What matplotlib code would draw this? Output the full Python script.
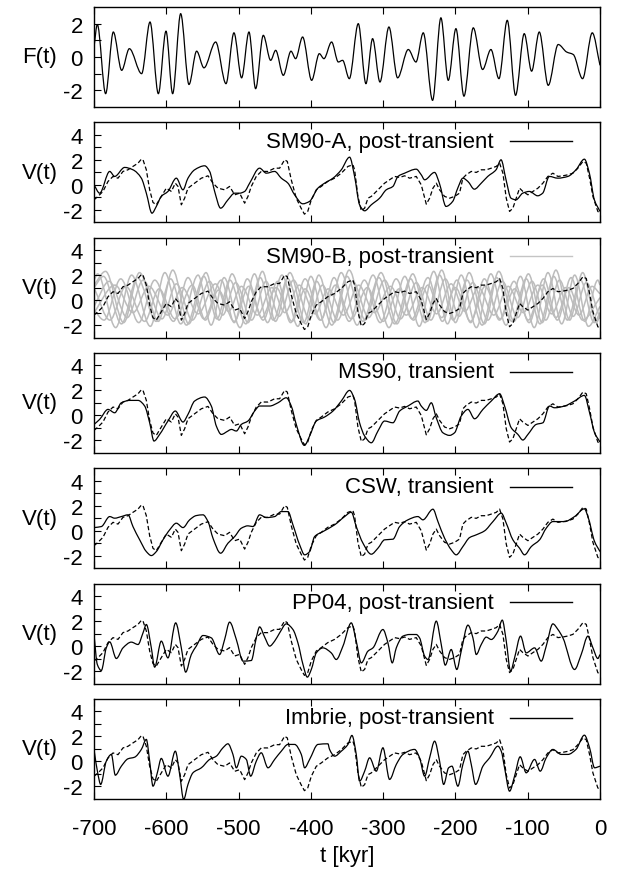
import matplotlib
matplotlib.use("Agg")
import matplotlib.pyplot as plt
import numpy as np
from matplotlib.path import Path
from matplotlib.patches import PathPatch

plt.rcParams['font.family'] = ['Liberation Sans', 'DejaVu Sans']

# forcing F(t): turning points
f_t = [-700, -695.4, -683.9, -673.3, -661.7, -651.1, -634.1, -622.5, -611, -600.4, -591.2, -580.1,
       -568.6, -558, -547.9, -531.7, -517.4, -506.4, -495.8, -485.6, -476.4, -465.8, -455.6, -448.7,
       -438.1, -427.5, -421.1, -411.4, -398.9, -388.3, -381.9, -371.3, -362, -356.1, -346.8, -334.4,
       -323.8, -314.6, -304.4, -292, -280, -265.2, -254.6, -244.5, -231.6, -220.1, -209.9, -199.3,
       -188.2, -175.3, -162.4, -150.9, -139.8, -128.3, -116.8, -104.8, -94.6, -84, -71.6, -57.8,
       -46.2, -37, -24.1, -10.7, 0]
f_v = [0.6, 1.95, -2.2, 1.5, -0.8, 0.5, -1.0, 2.1, -2.2, 1.55, -2.2, 2.6,
       -1.65, 0.35, -0.65, 0.9, -1.6, 1.45, -1.25, 1.5, -1.9, 1.3, -0.2, 0.4,
       -1.1, 0.35, -0.1, 1.2, -1.4, 0.2, -0.1, 0.9, -0.3, -0.2, -1.3, 2.0,
       -1.6, 1.1, -1.5, 1.8, -1.25, 0.45, -0.3, 1.45, -2.6, 2.35, -1.4, 1.7,
       -2.35, 1.75, -0.75, 0.45, -1.3, 2.2, -2.3, 1.4, -0.85, 1.5, -1.7, 0.75,
       0.3, 0.15, -1.3, 1.45, -0.5]

# ice volume record (dashed), same in every V(t) panel
d_t = [-700, -694.5, -687.6, -680.6, -673.7, -666.8, -659.9, -653, -646.1, -639.1, -634.5, -632.2,
       -627.6, -623, -618.4, -613.8, -606.9, -600, -593, -587.5, -583.8, -579.2, -574.6, -570,
       -560.8, -551.5, -542.3, -535.4, -528.5, -519.3, -512.4, -505.4, -498.5, -491.6, -487, -482.4,
       -475.5, -468.6, -459.3, -450.1, -443.2, -436.3, -432.6, -427.1, -420.2, -413.5, -408.9, -404.3,
       -399.4, -392.5, -385.6, -376.6, -367.1, -357.9, -348.7, -341.8, -339.5, -334.9, -330.2, -325.6,
       -321, -316.4, -311.8, -304.9, -298, -291.1, -284.2, -277.2, -270.3, -263.4, -254.2, -247.3,
       -240.3, -235.7, -231.1, -226.5, -221.9, -215, -208.1, -201.2, -194.3, -189.7, -185.1, -178.1,
       -171.2, -164.3, -157.4, -150.4, -143.5, -138.9, -134.3, -129.7, -125.1, -120.5, -115.9, -111.3,
       -106.7, -99.7, -92.8, -85.9, -79, -72.1, -65.2, -58.2, -51.3, -44.4, -37.5, -30.6,
       -23.6, -19, -14.4, -9.8, -3, 0]
d_v = [-1.2, -0.93, -0.53, 0.27, 0.67, 0.53, 1.07, 1.2, 1.47, 1.73, 2.05, 2.0,
       1.2, -0.4, -1.41, -1.6, -0.93, -0.27, -0.53, 0.13, -0.13, -1.6, -1.07, -0.27,
       0.13, 0.53, 0.72, 0.13, -0.27, -0.4, -0.13, -0.8, -0.67, -1.47, -0.93, -0.13,
       0.67, 1.07, 1.07, 1.33, 1.33, 2.0, 1.87, 0.4, -1.07, -1.87, -2.35, -2.13,
       -1.2, -0.4, -0.13, 0.27, 0.53, 0.93, 1.47, 1.6, 1.2, -0.93, -2.08, -1.87,
       -1.07, -0.93, -0.67, -0.27, 0.13, 0.4, 0.67, 0.59, 0.72, 0.53, 0.67, 0.0,
       -1.55, -1.07, -0.27, 0.13, -0.4, -0.93, -1.07, -0.93, -0.67, 0.53, 0.8, 1.07,
       0.99, 1.2, 1.2, 1.33, 1.47, 1.73, 0.93, -1.07, -2.13, -1.87, -1.07, -0.27,
       -0.53, -0.8, -0.53, -0.27, 0.13, 0.67, 0.93, 0.67, 0.72, 0.8, 0.93, 1.33,
       1.87, 1.73, 0.53, -0.93, -2.13, -2.27]

# model runs (solid)
sm90a_t = [-700, -692.2, -678.3, -671.4, -657.6, -646.1, -634.5, -627.6, -619.8, -613.8, -606.9, -597.7,
           -586.1, -576.9, -570, -560.8, -546.9, -540, -533.1, -524.8, -514.7, -505.4, -498.5, -491.6,
           -484.7, -470.9, -461.6, -450.1, -440.9, -431.7, -422.5, -411.2, -401.9, -390.3, -381, -369.4,
           -357.9, -346.4, -339.5, -332.6, -325.6, -316.4, -304.9, -295.7, -286.5, -279.5, -270.3, -254.2,
           -247.3, -242.6, -228.9, -222.2, -213, -203.8, -196.8, -189.7, -182.8, -173.8, -164.3, -155.3,
           -143.8, -136.9, -130, -123.1, -116.2, -106.9, -97.7, -86.2, -79.3, -70.1, -58.5, -44.4,
           -33.2, -21.6, -14.7, -7.8, 0]
sm90a_v = [0, -0.67, 1.07, 0.67, 1.39, 1.2, 0.53, -0.67, -2.27, -1.73, -0.93, -0.53,
           0.53, -0.4, 0.53, 1.2, 1.52, 1.07, -0.53, -1.87, -1.2, -0.67, -0.67, -0.53,
           0.13, 1.33, 0.93, 1.07, 0.53, 0.13, -0.8, -1.52, -1.33, -0.27, 0.13, 0.53,
           1.2, 2.21, 0.67, -1.6, -2.08, -1.6, -1.07, -0.4, -0.13, 0.67, 0.93, 1.25,
           0.8, 0.4, 0.99, 0.13, -1.73, -1.33, -0.27, 0.53, 0.27, -0.35, 0.13, 0.67,
           1.2, 2.0, 0.4, -1.07, -1.2, -0.67, -0.53, -0.88, -0.67, 0.67, 0.53, 0.67,
           1.2, 2.05, 0.93, -1.2, -2.13]

ms90_t = [-700, -692.2, -680.6, -671.4, -662.2, -650.7, -639.1, -629.9, -623, -617, -609.2, -597.7,
          -587.5, -576.9, -570, -560.8, -546.9, -537.7, -530.8, -523.9, -514.7, -510.1, -503.1, -496.2,
          -487, -477.8, -470.9, -457, -445.5, -434, -427.1, -420.2, -408.9, -401.7, -392.5, -381,
          -369.4, -357.9, -346.4, -339.5, -332.6, -325.6, -316.4, -307.2, -298, -286.5, -277.2, -265.7,
          -251.9, -247.3, -240.3, -233.4, -226.5, -217.3, -208.1, -201.2, -192, -182.7, -173.5, -162,
          -150.4, -138.9, -132, -122.8, -113.6, -106.7, -99.7, -88.2, -79, -69.8, -62.8, -49.1,
          -35.2, -21.6, -14.4, -7.5, 0]
ms90_v = [-0.72, -0.32, 0.48, 0.21, 1.01, 1.2, 1.2, 0.75, -0.59, -2.05, -1.52, -0.45,
          0.35, -0.53, 0.08, 1.15, 1.47, 0.75, -0.85, -1.52, -1.25, -1.12, -1.25, -0.72,
          -0.45, 0.35, 0.75, 0.75, 1.01, 1.41, 0.75, -0.72, -2.4, -1.65, -0.45, -0.13,
          0.35, 1.15, 2.0, 1.28, -0.59, -1.65, -2.19, -1.25, -0.45, -0.59, 0.35, 0.75,
          1.15, 0.75, 0.4, 1.01, -0.19, -1.39, -1.6, -1.39, -0.05, 0.48, -0.27, 0.48,
          1.15, 1.73, 0.75, -0.99, -1.52, -1.97, -1.52, -0.72, -0.59, 0.75, 0.61, 0.75,
          1.15, 1.6, 0.21, -1.39, -2.13]

csw_t = [-700, -689.9, -678.3, -671.4, -662.2, -653, -646.1, -636.8, -627.6, -620.7, -613.8, -604.6,
         -595.3, -586.1, -576.9, -567.7, -558.5, -549.2, -542.3, -535.4, -524.8, -514.7, -505.4, -496.2,
         -487, -480.1, -470.9, -461.6, -450.1, -440.9, -431.7, -424.8, -415.5, -408.6, -401.7, -394.8,
         -383.3, -367.1, -353.3, -344.1, -337.2, -327.9, -316.4, -307.2, -298, -286.5, -277.2, -265.7,
         -251.9, -245, -231.1, -224.2, -215, -205.8, -198.9, -189.7, -180.4, -171.2, -159.6, -148.1,
         -136.6, -129.7, -120.5, -111.3, -104.4, -95.1, -83.6, -74.4, -65.2, -49.1, -35.2, -21.6,
         -16.7, -7.5, 0]
csw_v = [0.25, 0.33, 1.13, 1.0, 1.13, 1.27, 0.33, -0.73, -1.67, -1.99, -1.67, -0.73,
         0.07, 0.6, 0.25, 0.87, 1.21, 1.27, 0.73, -0.6, -1.8, -1.0, -0.47, 0.2,
         0.39, 0.33, 1.27, 1.05, 1.13, 1.53, 1.53, 0.47, -1.13, -1.93, -1.67, -0.47,
         -0.07, 0.47, 1.13, 1.48, 0.33, -1.0, -1.88, -1.4, -0.73, -0.68, 0.33, 0.87,
         1.13, 0.87, 1.72, 0.73, -0.6, -1.53, -1.93, -1.27, -0.55, -0.33, -0.01, 0.73,
         1.4, 0.6, -0.73, -1.4, -1.93, -1.27, -0.73, 0.2, 0.73, 0.73, 1.13, 1.75,
         1.13, -0.87, -1.67]

pp04_t = [-700, -695.4, -689.9, -683, -678.3, -669.1, -659.9, -648.4, -639.1, -632.2, -627.6, -620.7,
          -616.1, -606.9, -597.7, -587, -579.2, -573.2, -565.4, -558.5, -549.2, -537.7, -526.2, -519.3,
          -512.4, -503.1, -493.9, -482.4, -475.5, -470.9, -463.9, -457, -450.1, -443.2, -434, -424.8,
          -417.9, -410.9, -404.9, -399.4, -392.5, -383.3, -371.8, -364.9, -355.6, -344.1, -337.2, -330.2,
          -321, -314.1, -300.3, -293.4, -287.4, -281.8, -272.6, -263.4, -254.2, -249.6, -242.6, -238,
          -226.5, -219.6, -214.1, -205.8, -198.1, -192, -182.7, -175.8, -171.2, -164.3, -157.4, -150.4,
          -141.2, -135.2, -129.7, -123.7, -118.2, -109.9, -102.1, -90.5, -81.3, -74.4, -65.2, -58.2,
          -51.3, -35.2, -26, -16.7, -9.8, -3, 0]
pp04_v = [0.92, -1.48, -1.96, -0.15, 0.33, -1.0, -0.15, 0.31, 0.12, 1.05, 1.72, -0.15,
          -1.69, 0.39, -0.95, 1.85, -0.15, -2.09, -0.68, -0.01, 0.84, 0.65, -0.68, 0.52,
          1.91, 0.52, -1.21, -1.16, 0.65, 1.53, 0.71, -0.01, 0.39, 1.05, 1.77, 1.32,
          0.25, -1.48, -2.49, -1.88, -0.55, -0.15, -0.55, -1.08, -0.01, 1.85, 0.39, -1.35,
          -0.41, -0.15, 1.32, 0.25, -1.35, -0.15, 0.79, 0.92, 0.92, 0.65, -0.81, -1.08,
          1.99, 0.12, -1.53, -0.28, -1.88, -0.41, 1.67, 0.65, -0.68, 0.12, 0.71, 0.52,
          1.19, 2.07, 0.39, -2.01, -0.95, 0.79, -0.55, -0.15, -1.21, -0.01, 1.77, 1.32,
          0.65, -1.88, -0.68, 0.79, -0.15, -1.0, -0.68]

imbrie_t = [-700, -694.5, -690.8, -683, -676, -670.5, -662.2, -653, -643.8, -634.5, -627.6, -623,
            -618.4, -612.4, -606.9, -597.7, -587.5, -581.5, -576, -570, -563.1, -551.5, -540, -530.8,
            -521.6, -514.7, -507.8, -503.1, -496.2, -489.3, -483.3, -475.5, -468.6, -459.3, -450.1, -440.9,
            -431.7, -422.5, -413.2, -408.6, -401.7, -390.2, -376.4, -374.1, -367.1, -357.9, -348.7, -343.2,
            -337.2, -332.6, -325.6, -318.7, -309.5, -300.3, -291.1, -281.8, -272.6, -256.5, -249.6, -242.6,
            -235.7, -228.8, -221.9, -216.3, -209.4, -204.8, -196.6, -189.7, -182.7, -178.1, -172.1, -162,
            -152.7, -141.2, -136.6, -132, -125.1, -118.2, -110.4, -102.1, -90.5, -82.7, -74.4, -65.2,
            -53.6, -44.4, -33.2, -21.6, -14.4, -7.5, 0]
imbrie_v = [0.95, -1.05, -1.85, 0.01, 0.55, -1.11, -0.39, 0.2, 0.33, 0.95, 1.75, 0.01,
            -1.99, -0.92, 0.23, -1.19, 0.81, -1.05, -3.05, -1.85, -0.92, -0.52, 0.15, 0.41,
            1.08, 1.4, 0.55, -0.52, 0.41, 0.15, -1.19, 0.01, 0.68, -0.52, 0.15, 0.81,
            1.35, 1.35, 0.55, -0.52, 0.15, 1.35, 1.4, 0.95, 0.41, 0.81, 1.35, 2.07,
            0.55, -1.59, -0.79, 0.28, -0.79, 1.08, -1.45, -0.25, 0.55, 0.95, 0.28, -1.19,
            0.28, 1.61, 0.01, -1.85, -0.52, -0.39, -1.99, -0.25, 0.81, -0.25, -1.85, -0.39,
            0.28, 1.21, 0.81, -0.52, -2.39, -1.19, 0.36, -0.92, 0.15, -0.79, 0.28, 0.95,
            0.55, 0.55, 0.95, 2.09, 1.08, -0.52, -0.39]

# SM90-B ensemble (grey): turning points of the members
grey_a_t = [-700, -687, -662, -640, -614, -594, -572, -548, -530, -512, -490, -470, -452, -432, -410, -392,
            -371, -350, -328, -306, -284, -262, -242, -222, -203, -184, -163, -143, -122, -102, -83, -64,
            -45, -27, -8, 0]
grey_a_v = [1.0, 1.9, -1.9, 1.8, -1.7, 1.7, -2.0, 1.9, -1.5, 1.6, -1.9, 1.8, -1.6, 1.7, -1.8, 1.5,
            -2.0, 1.9, -1.7, 1.8, -1.9, 1.7, -1.8, 2.0, -1.6, 1.6, -2.0, 1.8, -1.7, 1.7, -1.9, 1.9,
            -1.6, 1.6, -1.8, -1.0]
grey_b_t = [-700, -679, -654, -632, -606, -586, -564, -540, -522, -504, -482, -462, -444, -424, -402, -384,
            -363, -342, -320, -298, -276, -254, -234, -214, -195, -176, -155, -135, -114, -94, -75, -56,
            -37, -19, 0]
grey_b_v = [-0.5, 1.5, -1.4, 1.6, -1.5, 1.3, -1.6, 1.5, -1.2, 1.4, -1.6, 1.5, -1.3, 1.6, -1.5, 1.2,
            -1.6, 1.5, -1.4, 1.6, -1.5, 1.4, -1.6, 1.7, -1.3, 1.4, -1.6, 1.5, -1.4, 1.5, -1.6, 1.6,
            -1.3, 1.4, -1.5]
grey_c_t = [-700, -695, -670, -648, -622, -602, -580, -556, -538, -520, -498, -478, -460, -440, -418, -400,
            -379, -358, -336, -314, -292, -270, -250, -230, -211, -192, -171, -151, -130, -110, -91, -72,
            -53, -35, -16, 0]
grey_c_v = [1.6, 2.1, -2.2, 2.0, -2.1, 2.2, -1.9, 2.0, -2.0, 1.8, -2.2, 2.1, -1.8, 2.0, -2.1, 1.9,
            -2.2, 2.2, -2.0, 2.0, -2.2, 1.9, -2.1, 2.3, -1.9, 2.0, -2.2, 2.1, -2.0, 1.9, -2.2, 2.2,
            -1.9, 2.0, -2.1, -0.5]
grey_d_t = [-700, -671, -646, -624, -598, -578, -556, -532, -514, -496, -474, -454, -436, -416, -394, -376,
            -355, -334, -312, -290, -268, -246, -226, -206, -187, -168, -147, -127, -106, -86, -67, -48,
            -29, -11, 0]
grey_d_v = [-1.0, 1.2, -1.0, 1.1, -1.2, 1.0, -1.1, 1.3, -0.9, 1.1, -1.2, 1.0, -1.0, 1.2, -1.1, 0.9,
            -1.2, 1.2, -1.0, 1.1, -1.2, 1.0, -1.1, 1.3, -0.9, 1.0, -1.2, 1.1, -1.0, 1.2, -1.1, 1.0,
            -1.2, 1.1, 0.5]
grey_e_t = [-700, -678, -656, -630, -610, -588, -564, -546, -528, -506, -486, -468, -448, -426, -408, -387,
            -366, -344, -322, -300, -278, -258, -238, -219, -200, -179, -159, -138, -118, -99, -80, -61,
            -43, -24, 0]
grey_e_v = [1.0, -1.6, 1.1, -1.7, 0.9, -1.5, 1.2, -1.6, 0.8, -1.7, 1.1, -1.4, 1.0, -1.7, 0.9, -1.6,
            1.2, -1.5, 1.0, -1.7, 0.9, -1.6, 1.2, -1.4, 1.0, -1.7, 1.1, -1.5, 0.9, -1.6, 1.2, -1.4,
            1.0, -1.6, 0.2]
grey_f_t = [-700, -684, -659, -637, -611, -591, -569, -545, -527, -509, -487, -467, -449, -429, -407, -389,
            -368, -347, -325, -303, -281, -259, -239, -219, -200, -181, -160, -140, -119, -99, -80, -61,
            -42, -24, -5, 0]
grey_f_v = [1.2, 2.3, -1.8, 2.2, -1.7, 2.4, -1.9, 2.2, -1.6, 2.1, -1.8, 2.3, -1.7, 2.2, -1.9, 2.0,
            -1.8, 2.4, -1.6, 2.2, -1.9, 2.1, -1.7, 2.4, -1.8, 2.2, -1.9, 2.3, -1.7, 2.1, -1.8, 2.4,
            -1.6, 2.2, -1.8, -1.2]
grey_g_t = [-700, -686, -663, -638, -616, -590, -570, -548, -524, -506, -488, -466, -446, -428, -408, -386,
            -368, -347, -326, -304, -282, -260, -238, -218, -198, -179, -160, -139, -119, -98, -78, -59,
            -40, -21, -3, 0]
grey_g_v = [-0.8, -1.6, 1.7, -1.8, 1.6, -1.7, 1.8, -1.5, 1.6, -1.8, 1.7, -1.6, 1.5, -1.8, 1.7, -1.6,
            1.8, -1.7, 1.6, -1.8, 1.7, -1.5, 1.8, -1.7, 1.6, -1.8, 1.7, -1.6, 1.5, -1.8, 1.7, -1.6,
            1.8, -1.7, 1.6, 1.2]
grey_runs = [(grey_a_t, grey_a_v), (grey_b_t, grey_b_v), (grey_c_t, grey_c_v), (grey_d_t, grey_d_v),
             (grey_e_t, grey_e_v), (grey_f_t, grey_f_v), (grey_g_t, grey_g_v)]

labels = ['SM90-A, post-transient', 'SM90-B, post-transient', 'MS90, transient',
          'CSW, transient', 'PP04, post-transient', 'Imbrie, post-transient']
models = [(sm90a_t, sm90a_v), None, (ms90_t, ms90_v), (csw_t, csw_v),
          (pp04_t, pp04_v), (imbrie_t, imbrie_v)]


def smooth_path(t, v):
    # cubic Bezier through the read points, monotone tangents (flat at turning points)
    t = np.asarray(t, float)
    v = np.asarray(v, float)
    h = np.diff(t)
    d = np.diff(v) / h
    m = np.zeros_like(v)
    m[0], m[-1] = d[0], d[-1]
    for k in range(1, len(v) - 1):
        if d[k - 1] * d[k] > 0:
            w1 = 2 * h[k] + h[k - 1]
            w2 = h[k] + 2 * h[k - 1]
            m[k] = (w1 + w2) / (w1 / d[k - 1] + w2 / d[k])
    verts = [(t[0], v[0])]
    codes = [Path.MOVETO]
    for k in range(len(v) - 1):
        verts += [(t[k] + h[k] / 3, v[k] + m[k] * h[k] / 3),
                  (t[k + 1] - h[k] / 3, v[k + 1] - m[k + 1] * h[k] / 3),
                  (t[k + 1], v[k + 1])]
        codes += [Path.CURVE4] * 3
    return Path(verts, codes)


def draw_smooth(ax, t, v, color, lw):
    ax.add_patch(PathPatch(smooth_path(t, v), facecolor='none', edgecolor=color, lw=lw))


fig = plt.figure(figsize=(6.21, 8.70), dpi=100)
L, W = 94 / 621, 506 / 621
H = 100 / 870
axes = []
for i in range(7):
    top = 8 + i * 115.3
    ax = fig.add_axes([L, 1 - (top + 100) / 870, W, H])
    axes.append(ax)

fs = 16
for i, ax in enumerate(axes):
    ax.set_xlim(-700, 0)
    ax.set_xticks(np.arange(-700, 1, 100))
    ax.tick_params(axis='x', direction='in', top=True, bottom=True, length=5, width=0.8,
                   labelsize=fs, pad=14)
    ax.tick_params(axis='y', direction='in', left=True, right=False, length=5, width=0.8,
                   labelsize=fs, pad=8)
    for s in ax.spines.values():
        s.set_linewidth(1.0)
    if i < 6:
        ax.set_xticklabels([])
    if i == 0:
        ax.set_ylim(-3, 3)
        ax.set_yticks(np.arange(-2, 3, 1))
        ax.set_yticklabels(['-2', '', '0', '', '2'])
        ax.set_ylabel('F(t)', fontsize=fs, rotation=0, ha='center', va='center', labelpad=17)
        draw_smooth(ax, f_t, f_v, 'black', 0.9)
        continue
    ax.set_ylim(-3, 5)
    ax.set_yticks(np.arange(-2, 5, 1))
    ax.set_yticklabels(['-2', '', '0', '', '2', '', '4'])
    ax.set_ylabel('V(t)', fontsize=fs, rotation=0, ha='center', va='center', labelpad=17)
    lab = labels[i - 1]
    if models[i - 1] is None:
        for gt, gv in grey_runs:
            draw_smooth(ax, gt, gv, '#bcbcbc', 1.1)
        key_color = '#c4c4c4'
    else:
        key_color = 'black'
    ax.plot(d_t, d_v, color='black', lw=0.9, linestyle=(0, (3.5, 2)))
    if models[i - 1] is not None:
        mt, mv = models[i - 1]
        draw_smooth(ax, mt, mv, 'black', 0.9)
    ax.text(0.79, 0.8125, lab, transform=ax.transAxes, ha='right', va='center', fontsize=fs)
    ax.plot([0.822, 0.945], [0.8125, 0.8125], transform=ax.transAxes, color=key_color, lw=1.0)

axes[-1].set_xticklabels([str(x) for x in range(-700, 1, 100)])
axes[-1].set_xlabel('t [kyr]', fontsize=fs, labelpad=4)

fig.savefig('out.png', dpi=100)
